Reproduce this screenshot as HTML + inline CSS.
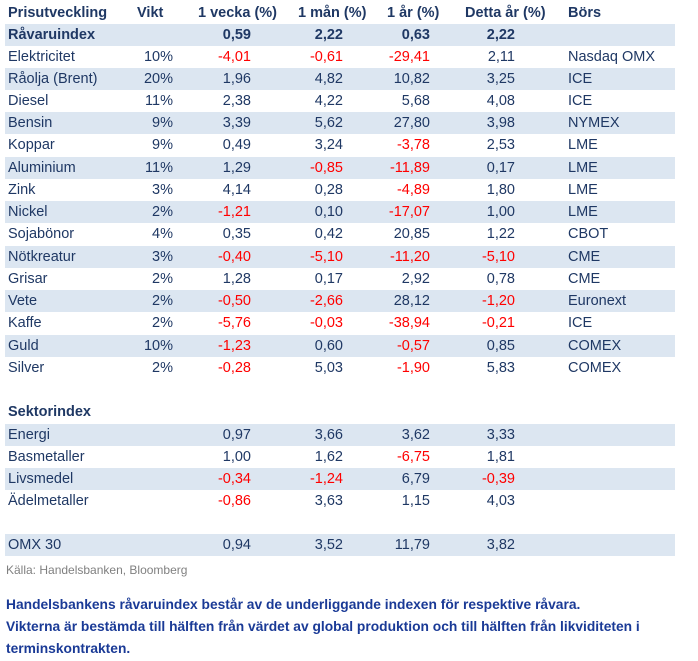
<!DOCTYPE html>
<html><head><meta charset="utf-8"><style>
body{margin:0;width:698px;height:661px;background:#fff;position:relative;font-family:"Liberation Sans",sans-serif;overflow:hidden}
.r{position:absolute;left:5px;width:670px;height:22px;font-size:14.5px;color:#1f3864;line-height:22px}
.b{background:#dce6f1}
.r span{position:absolute;top:0;white-space:nowrap}
.l{left:3px}.v{right:calc(670px - 168px)}.c1{right:calc(670px - 246px)}.c2{right:calc(670px - 338px)}.c3{right:calc(670px - 425px)}.c4{right:calc(670px - 510px)}.bs{left:563px}
.h{font-weight:bold}
.h .v{right:calc(670px - 166px)}
.n{color:#ff0000}
.t{position:absolute;left:6px;font-weight:bold;color:#1a3a96;font-size:13.8px;white-space:nowrap}
</style></head><body>
<div class="r h" style="top:2px"><span class="l">Prisutveckling</span><span style="left:132px">Vikt</span><span style="left:193px">1 vecka (%)</span><span style="left:293px">1 mån (%)</span><span style="left:382px">1 år (%)</span><span style="left:460px">Detta år (%)</span><span class="bs">Börs</span></div>
<div class="r b h" style="top:24px"><span class="l">Råvaruindex</span><span class="c1">0,59</span><span class="c2">2,22</span><span class="c3">0,63</span><span class="c4">2,22</span></div>
<div class="r" style="top:46px"><span class="l">Elektricitet</span><span class="v">10%</span><span class="c1 n">-4,01</span><span class="c2 n">-0,61</span><span class="c3 n">-29,41</span><span class="c4">2,11</span><span class="bs">Nasdaq OMX</span></div>
<div class="r b" style="top:68px"><span class="l">Råolja (Brent)</span><span class="v">20%</span><span class="c1">1,96</span><span class="c2">4,82</span><span class="c3">10,82</span><span class="c4">3,25</span><span class="bs">ICE</span></div>
<div class="r" style="top:90px"><span class="l">Diesel</span><span class="v">11%</span><span class="c1">2,38</span><span class="c2">4,22</span><span class="c3">5,68</span><span class="c4">4,08</span><span class="bs">ICE</span></div>
<div class="r b" style="top:112px"><span class="l">Bensin</span><span class="v">9%</span><span class="c1">3,39</span><span class="c2">5,62</span><span class="c3">27,80</span><span class="c4">3,98</span><span class="bs">NYMEX</span></div>
<div class="r" style="top:134px"><span class="l">Koppar</span><span class="v">9%</span><span class="c1">0,49</span><span class="c2">3,24</span><span class="c3 n">-3,78</span><span class="c4">2,53</span><span class="bs">LME</span></div>
<div class="r b" style="top:157px"><span class="l">Aluminium</span><span class="v">11%</span><span class="c1">1,29</span><span class="c2 n">-0,85</span><span class="c3 n">-11,89</span><span class="c4">0,17</span><span class="bs">LME</span></div>
<div class="r" style="top:179px"><span class="l">Zink</span><span class="v">3%</span><span class="c1">4,14</span><span class="c2">0,28</span><span class="c3 n">-4,89</span><span class="c4">1,80</span><span class="bs">LME</span></div>
<div class="r b" style="top:201px"><span class="l">Nickel</span><span class="v">2%</span><span class="c1 n">-1,21</span><span class="c2">0,10</span><span class="c3 n">-17,07</span><span class="c4">1,00</span><span class="bs">LME</span></div>
<div class="r" style="top:223px"><span class="l">Sojabönor</span><span class="v">4%</span><span class="c1">0,35</span><span class="c2">0,42</span><span class="c3">20,85</span><span class="c4">1,22</span><span class="bs">CBOT</span></div>
<div class="r b" style="top:246px"><span class="l">Nötkreatur</span><span class="v">3%</span><span class="c1 n">-0,40</span><span class="c2 n">-5,10</span><span class="c3 n">-11,20</span><span class="c4 n">-5,10</span><span class="bs">CME</span></div>
<div class="r" style="top:268px"><span class="l">Grisar</span><span class="v">2%</span><span class="c1">1,28</span><span class="c2">0,17</span><span class="c3">2,92</span><span class="c4">0,78</span><span class="bs">CME</span></div>
<div class="r b" style="top:290px"><span class="l">Vete</span><span class="v">2%</span><span class="c1 n">-0,50</span><span class="c2 n">-2,66</span><span class="c3">28,12</span><span class="c4 n">-1,20</span><span class="bs">Euronext</span></div>
<div class="r" style="top:312px"><span class="l">Kaffe</span><span class="v">2%</span><span class="c1 n">-5,76</span><span class="c2 n">-0,03</span><span class="c3 n">-38,94</span><span class="c4 n">-0,21</span><span class="bs">ICE</span></div>
<div class="r b" style="top:335px"><span class="l">Guld</span><span class="v">10%</span><span class="c1 n">-1,23</span><span class="c2">0,60</span><span class="c3 n">-0,57</span><span class="c4">0,85</span><span class="bs">COMEX</span></div>
<div class="r" style="top:357px"><span class="l">Silver</span><span class="v">2%</span><span class="c1 n">-0,28</span><span class="c2">5,03</span><span class="c3 n">-1,90</span><span class="c4">5,83</span><span class="bs">COMEX</span></div>
<div class="r h" style="top:401px"><span class="l">Sektorindex</span></div>
<div class="r b" style="top:424px"><span class="l">Energi</span><span class="c1">0,97</span><span class="c2">3,66</span><span class="c3">3,62</span><span class="c4">3,33</span></div>
<div class="r" style="top:446px"><span class="l">Basmetaller</span><span class="c1">1,00</span><span class="c2">1,62</span><span class="c3 n">-6,75</span><span class="c4">1,81</span></div>
<div class="r b" style="top:468px"><span class="l">Livsmedel</span><span class="c1 n">-0,34</span><span class="c2 n">-1,24</span><span class="c3">6,79</span><span class="c4 n">-0,39</span></div>
<div class="r" style="top:490px"><span class="l">Ädelmetaller</span><span class="c1 n">-0,86</span><span class="c2">3,63</span><span class="c3">1,15</span><span class="c4">4,03</span></div>
<div class="r b" style="top:534px"><span class="l">OMX 30</span><span class="c1">0,94</span><span class="c2">3,52</span><span class="c3">11,79</span><span class="c4">3,82</span></div>
<div style="position:absolute;left:6px;top:563px;font-size:12px;color:#808080">Källa: Handelsbanken, Bloomberg</div>
<div class="t" style="top:597px">Handelsbankens råvaruindex består av de underliggande indexen för respektive råvara.</div>
<div class="t" style="top:619px">Vikterna är bestämda till hälften från värdet av global produktion och till hälften från likviditeten i</div>
<div class="t" style="top:641px">terminskontrakten.</div>
</body></html>
